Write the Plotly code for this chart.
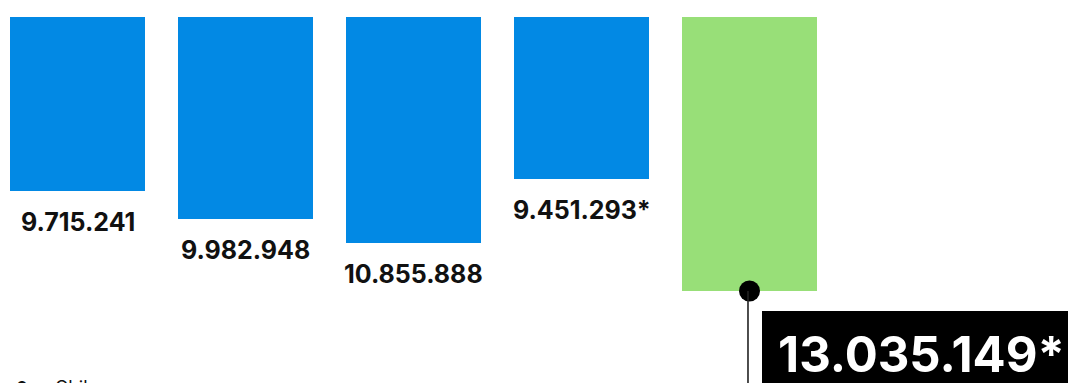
import plotly.graph_objects as go

# ---- data ----
categories = ["A", "B", "C", "D", "E"]
values_label = ["9.715.241", "9.982.948", "10.855.888", "9.451.293*", "13.035.149*"]
bar_lengths = [174, 202, 226, 162, 274]   # relative bar lengths
bar_colors = ["#0289E4", "#0289E4", "#0289E4", "#0289E4", "#98DF78"]
legend_text = "Chile"

# page body has an 8px margin, so the figure is sized to fit the window
W, H = 1068, 375
TOP = 9          # bar top offset in figure pixels
x = list(range(len(categories)))
FONT = "Inter, Lato, sans-serif"

fig = go.Figure()
fig.add_trace(go.Bar(
    x=x, y=bar_lengths, marker=dict(color=bar_colors, line=dict(width=0)),
    width=0.804, hoverinfo="skip", showlegend=False,
))

# labels under the blue bars
for i in range(len(categories) - 1):
    fig.add_annotation(x=x[i], y=bar_lengths[i] + 31, text="<b>%s</b>" % values_label[i],
                       showarrow=False, xanchor="center", yanchor="middle",
                       font=dict(family=FONT, size=25, color="#111111"))

last = len(categories) - 1
# connector line + dot
fig.add_shape(type="line", x0=x[last] - 0.009, x1=x[last] - 0.009, y0=bar_lengths[last], y1=420,
              xref="x", yref="y", line=dict(color="#222222", width=1.6))
fig.add_trace(go.Scatter(x=[x[last]], y=[bar_lengths[last]], mode="markers",
                         marker=dict(size=21, color="#000000"), hoverinfo="skip", showlegend=False,
                         cliponaxis=False))
# black box with big value
fig.add_shape(type="rect", x0=x[last] + 0.0744, x1=x[last] + 2.3, y0=294, y1=430,
              xref="x", yref="y", fillcolor="#000000", line=dict(width=0), layer="above")
fig.add_annotation(x=x[last] + 1.021, y=337, text="<b>%s</b>" % values_label[last],
                   showarrow=False, xanchor="center", yanchor="middle",
                   font=dict(family=FONT, size=49, color="#ffffff"))

# legend hint at bottom left (cut off by the window)
fig.add_annotation(x=0, y=359, xref="paper", yref="y", xanchor="left", yanchor="top",
                   text="●", showarrow=False, xshift=6,
                   font=dict(family=FONT, size=13, color="#111111"))
fig.add_annotation(x=0, y=358, xref="paper", yref="y", xanchor="left", yanchor="top",
                   text=legend_text, showarrow=False, xshift=45,
                   font=dict(family=FONT, size=18, color="#111111"))

step = 168.0
c0 = 69.5
fig.update_layout(
    width=W, height=H,
    margin=dict(l=0, r=0, t=0, b=0),
    paper_bgcolor="#ffffff", plot_bgcolor="#ffffff",
    xaxis=dict(range=[-c0 / step, (W - c0) / step], visible=False, fixedrange=True),
    yaxis=dict(range=[H - TOP, -TOP], visible=False, fixedrange=True),
    bargap=0,
)

fig.write_html("out.html")
